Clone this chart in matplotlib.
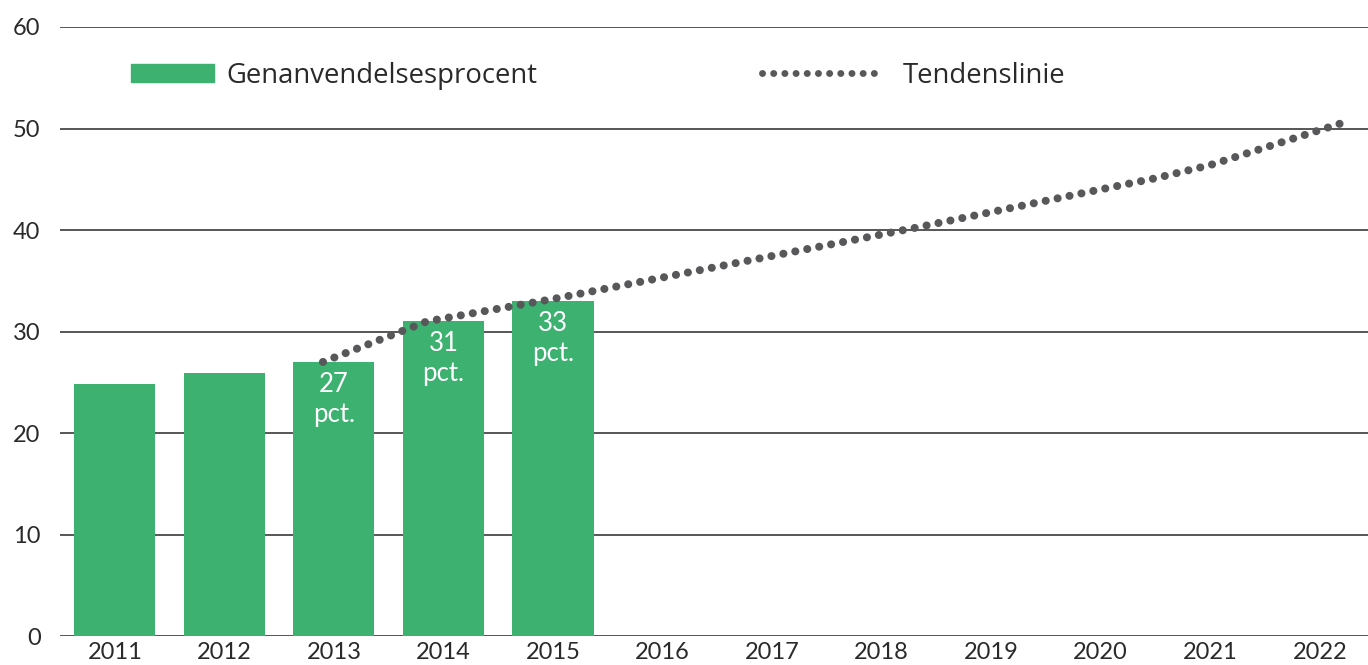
import matplotlib

matplotlib.use("Agg")
import matplotlib.pyplot as plt
import numpy as np
from matplotlib.lines import Line2D
from matplotlib.patches import Patch

YEARS = [str(y) for y in range(2011, 2023)]
RATE = [24.8, 25.9, 27.0, 31.0, 33.0]
LABELED = {2: "27\npct.", 3: "31\npct.", 4: "33\npct."}

# trend line, positions in category units (0 = 2011)
TREND_X = [1.9, 2.85, 4.0, 7.3, 9.0, 9.5, 10.0, 11.25]
TREND_Y = [27.0, 31.0, 33.2, 40.2, 44.0, 45.1, 46.4, 50.7]

GREEN = "#3cb170"
DOTS = "#58585a"
TEXT = "#2a2a2a"
GRID = "#3a3a3a"


def main() -> None:
    plt.rcParams.update({"font.family": ["Lato", "DejaVu Sans"], "font.size": 17})
    fig = plt.figure(figsize=(13.68, 6.65), dpi=100)
    ax = fig.add_axes([0.0439, 0.0436, 0.9561, 0.9158])

    x = np.arange(len(RATE))
    bars = ax.bar(x, RATE, 0.74, color=GREEN, zorder=2)
    for i, txt in LABELED.items():
        b = bars[i]
        ax.annotate(txt, (b.get_x() + b.get_width() / 2, b.get_height()),
                    xytext=(0, -7), textcoords="offset points",
                    ha="center", va="top", color="white", fontsize=18.5,
                    linespacing=1.25, zorder=4)

    ax.plot(TREND_X, TREND_Y, color=DOTS, linewidth=5.8,
            linestyle=(0, (0.01, 1.5)), dash_capstyle="round", zorder=3)

    ax.set_xlim(-0.5, 11.44)
    ax.set_ylim(0, 60)
    ax.set_xticks(np.arange(len(YEARS)))
    ax.set_xticklabels(YEARS)
    ax.set_yticks(range(0, 61, 10))
    ax.tick_params(axis="both", length=0, colors=TEXT, labelsize=17)
    ax.tick_params(axis="y", pad=14)
    ax.tick_params(axis="x", pad=4)
    ax.grid(axis="y", color=GRID, linewidth=1.2)
    ax.set_axisbelow(True)
    for s in ax.spines.values():
        s.set_visible(False)

    legend_font = {"family": ["Open Sans", "DejaVu Sans"], "size": 19.8}
    leg1 = ax.legend(handles=[Patch(color=GREEN, label="Genanvendelsesprocent")],
                     loc="center left", bbox_to_anchor=(0.0543, 0.92),
                     frameon=False, borderpad=0, borderaxespad=0,
                     handlelength=3.0, handleheight=0.65, handletextpad=0.45,
                     prop=legend_font, labelcolor=TEXT)
    ax.add_artist(leg1)
    ax.legend(handles=[Line2D([], [], color=DOTS, linewidth=5.0,
                              linestyle=(0, (0.01, 1.6)), dash_capstyle="round",
                              label="Tendenslinie")],
              loc="center left", bbox_to_anchor=(0.537, 0.92),
              frameon=False, borderpad=0, borderaxespad=0,
              handlelength=4.4, handletextpad=0.7, prop=legend_font, labelcolor=TEXT)

    fig.savefig("out.png", dpi=100)


if __name__ == "__main__":
    main()
